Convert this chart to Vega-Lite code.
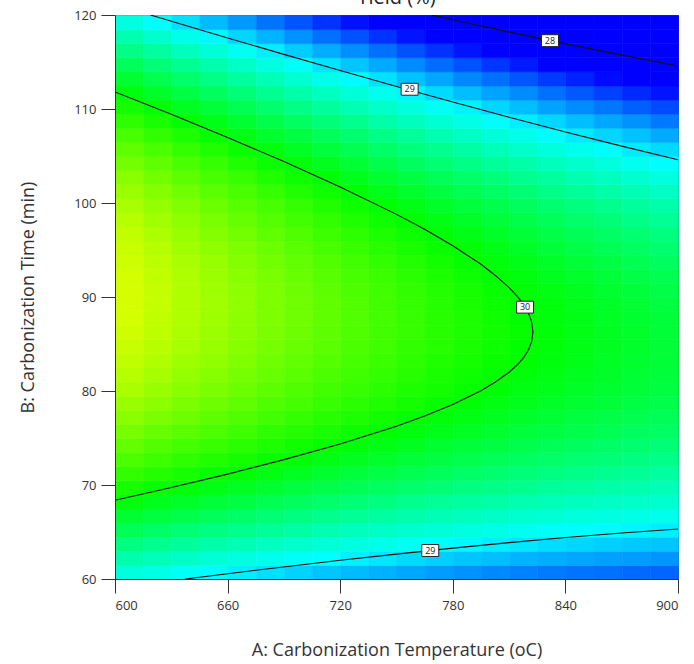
{
"$schema":"https://vega.github.io/schema/vega-lite/v6.json",
"width":563,"height":564,
"autosize":"none",
"padding":{"left":115,"top":15,"right":16,"bottom":85},
"background":"white",
"title":{"text":"Yield (%)","fontSize":20,"fontWeight":"normal","font":"Open Sans","color":"#222","offset":1,"anchor":"middle"},
"config":{"view":{"stroke":"#555","strokeWidth":1},
"axis":{"labelFont":"Open Sans","titleFont":"Open Sans","labelFontSize":13,"titleFontSize":18,"titleFontWeight":"normal","labelColor":"#333","titleColor":"#333","tickColor":"#333","domainColor":"#333","tickSize":14,"grid":false,"labelPadding":5}},
"datasets":{
"grid":[
{"A":600,"B":60,"Y":29.18},{"A":600,"B":61.5,"Y":29.36},{"A":600,"B":63,"Y":29.52},{"A":600,"B":64.5,"Y":29.68},{"A":600,"B":66,"Y":29.82},{"A":600,"B":67.5,"Y":29.96},{"A":600,"B":69,"Y":30.09},{"A":600,"B":70.5,"Y":30.21},{"A":600,"B":72,"Y":30.32},{"A":600,"B":73.5,"Y":30.42},{"A":600,"B":75,"Y":30.51},{"A":600,"B":76.5,"Y":30.59},{"A":600,"B":78,"Y":30.66},{"A":600,"B":79.5,"Y":30.73},{"A":600,"B":81,"Y":30.78},{"A":600,"B":82.5,"Y":30.83},{"A":600,"B":84,"Y":30.86},{"A":600,"B":85.5,"Y":30.89},{"A":600,"B":87,"Y":30.91},{"A":600,"B":88.5,"Y":30.92},{"A":600,"B":90,"Y":30.92},{"A":600,"B":91.5,"Y":30.91},{"A":600,"B":93,"Y":30.89},{"A":600,"B":94.5,"Y":30.86},{"A":600,"B":96,"Y":30.83},{"A":600,"B":97.5,"Y":30.78},{"A":600,"B":99,"Y":30.72},{"A":600,"B":100.5,"Y":30.66},{"A":600,"B":102,"Y":30.59},{"A":600,"B":103.5,"Y":30.5},{"A":600,"B":105,"Y":30.41},{"A":600,"B":106.5,"Y":30.31},{"A":600,"B":108,"Y":30.2},{"A":600,"B":109.5,"Y":30.08},{"A":600,"B":111,"Y":29.95},{"A":600,"B":112.5,"Y":29.82},{"A":600,"B":114,"Y":29.67},{"A":600,"B":115.5,"Y":29.51},{"A":600,"B":117,"Y":29.35},{"A":600,"B":118.5,"Y":29.17},
{"A":615,"B":60,"Y":29.14},{"A":615,"B":61.5,"Y":29.31},{"A":615,"B":63,"Y":29.47},{"A":615,"B":64.5,"Y":29.62},{"A":615,"B":66,"Y":29.77},{"A":615,"B":67.5,"Y":29.9},{"A":615,"B":69,"Y":30.03},{"A":615,"B":70.5,"Y":30.15},{"A":615,"B":72,"Y":30.26},{"A":615,"B":73.5,"Y":30.35},{"A":615,"B":75,"Y":30.44},{"A":615,"B":76.5,"Y":30.52},{"A":615,"B":78,"Y":30.6},{"A":615,"B":79.5,"Y":30.66},{"A":615,"B":81,"Y":30.71},{"A":615,"B":82.5,"Y":30.76},{"A":615,"B":84,"Y":30.79},{"A":615,"B":85.5,"Y":30.82},{"A":615,"B":87,"Y":30.83},{"A":615,"B":88.5,"Y":30.84},{"A":615,"B":90,"Y":30.84},{"A":615,"B":91.5,"Y":30.83},{"A":615,"B":93,"Y":30.81},{"A":615,"B":94.5,"Y":30.78},{"A":615,"B":96,"Y":30.74},{"A":615,"B":97.5,"Y":30.69},{"A":615,"B":99,"Y":30.64},{"A":615,"B":100.5,"Y":30.57},{"A":615,"B":102,"Y":30.49},{"A":615,"B":103.5,"Y":30.41},{"A":615,"B":105,"Y":30.32},{"A":615,"B":106.5,"Y":30.21},{"A":615,"B":108,"Y":30.1},{"A":615,"B":109.5,"Y":29.98},{"A":615,"B":111,"Y":29.85},{"A":615,"B":112.5,"Y":29.71},{"A":615,"B":114,"Y":29.56},{"A":615,"B":115.5,"Y":29.41},{"A":615,"B":117,"Y":29.24},{"A":615,"B":118.5,"Y":29.07},
{"A":630,"B":60,"Y":29.09},{"A":630,"B":61.5,"Y":29.26},{"A":630,"B":63,"Y":29.42},{"A":630,"B":64.5,"Y":29.57},{"A":630,"B":66,"Y":29.72},{"A":630,"B":67.5,"Y":29.85},{"A":630,"B":69,"Y":29.97},{"A":630,"B":70.5,"Y":30.09},{"A":630,"B":72,"Y":30.2},{"A":630,"B":73.5,"Y":30.29},{"A":630,"B":75,"Y":30.38},{"A":630,"B":76.5,"Y":30.46},{"A":630,"B":78,"Y":30.53},{"A":630,"B":79.5,"Y":30.59},{"A":630,"B":81,"Y":30.64},{"A":630,"B":82.5,"Y":30.68},{"A":630,"B":84,"Y":30.72},{"A":630,"B":85.5,"Y":30.74},{"A":630,"B":87,"Y":30.76},{"A":630,"B":88.5,"Y":30.76},{"A":630,"B":90,"Y":30.76},{"A":630,"B":91.5,"Y":30.75},{"A":630,"B":93,"Y":30.73},{"A":630,"B":94.5,"Y":30.69},{"A":630,"B":96,"Y":30.65},{"A":630,"B":97.5,"Y":30.61},{"A":630,"B":99,"Y":30.55},{"A":630,"B":100.5,"Y":30.48},{"A":630,"B":102,"Y":30.4},{"A":630,"B":103.5,"Y":30.32},{"A":630,"B":105,"Y":30.22},{"A":630,"B":106.5,"Y":30.12},{"A":630,"B":108,"Y":30.01},{"A":630,"B":109.5,"Y":29.88},{"A":630,"B":111,"Y":29.75},{"A":630,"B":112.5,"Y":29.61},{"A":630,"B":114,"Y":29.46},{"A":630,"B":115.5,"Y":29.3},{"A":630,"B":117,"Y":29.13},{"A":630,"B":118.5,"Y":28.96},
{"A":645,"B":60,"Y":29.04},{"A":645,"B":61.5,"Y":29.21},{"A":645,"B":63,"Y":29.37},{"A":645,"B":64.5,"Y":29.52},{"A":645,"B":66,"Y":29.66},{"A":645,"B":67.5,"Y":29.8},{"A":645,"B":69,"Y":29.92},{"A":645,"B":70.5,"Y":30.03},{"A":645,"B":72,"Y":30.14},{"A":645,"B":73.5,"Y":30.23},{"A":645,"B":75,"Y":30.32},{"A":645,"B":76.5,"Y":30.4},{"A":645,"B":78,"Y":30.47},{"A":645,"B":79.5,"Y":30.53},{"A":645,"B":81,"Y":30.58},{"A":645,"B":82.5,"Y":30.62},{"A":645,"B":84,"Y":30.65},{"A":645,"B":85.5,"Y":30.67},{"A":645,"B":87,"Y":30.68},{"A":645,"B":88.5,"Y":30.69},{"A":645,"B":90,"Y":30.68},{"A":645,"B":91.5,"Y":30.67},{"A":645,"B":93,"Y":30.65},{"A":645,"B":94.5,"Y":30.61},{"A":645,"B":96,"Y":30.57},{"A":645,"B":97.5,"Y":30.52},{"A":645,"B":99,"Y":30.46},{"A":645,"B":100.5,"Y":30.39},{"A":645,"B":102,"Y":30.31},{"A":645,"B":103.5,"Y":30.23},{"A":645,"B":105,"Y":30.13},{"A":645,"B":106.5,"Y":30.03},{"A":645,"B":108,"Y":29.91},{"A":645,"B":109.5,"Y":29.79},{"A":645,"B":111,"Y":29.65},{"A":645,"B":112.5,"Y":29.51},{"A":645,"B":114,"Y":29.36},{"A":645,"B":115.5,"Y":29.2},{"A":645,"B":117,"Y":29.03},{"A":645,"B":118.5,"Y":28.85},
{"A":660,"B":60,"Y":29.0},{"A":660,"B":61.5,"Y":29.17},{"A":660,"B":63,"Y":29.33},{"A":660,"B":64.5,"Y":29.48},{"A":660,"B":66,"Y":29.62},{"A":660,"B":67.5,"Y":29.75},{"A":660,"B":69,"Y":29.87},{"A":660,"B":70.5,"Y":29.98},{"A":660,"B":72,"Y":30.08},{"A":660,"B":73.5,"Y":30.18},{"A":660,"B":75,"Y":30.26},{"A":660,"B":76.5,"Y":30.34},{"A":660,"B":78,"Y":30.41},{"A":660,"B":79.5,"Y":30.46},{"A":660,"B":81,"Y":30.51},{"A":660,"B":82.5,"Y":30.55},{"A":660,"B":84,"Y":30.58},{"A":660,"B":85.5,"Y":30.6},{"A":660,"B":87,"Y":30.61},{"A":660,"B":88.5,"Y":30.62},{"A":660,"B":90,"Y":30.61},{"A":660,"B":91.5,"Y":30.59},{"A":660,"B":93,"Y":30.57},{"A":660,"B":94.5,"Y":30.54},{"A":660,"B":96,"Y":30.49},{"A":660,"B":97.5,"Y":30.44},{"A":660,"B":99,"Y":30.38},{"A":660,"B":100.5,"Y":30.31},{"A":660,"B":102,"Y":30.23},{"A":660,"B":103.5,"Y":30.14},{"A":660,"B":105,"Y":30.04},{"A":660,"B":106.5,"Y":29.93},{"A":660,"B":108,"Y":29.82},{"A":660,"B":109.5,"Y":29.69},{"A":660,"B":111,"Y":29.56},{"A":660,"B":112.5,"Y":29.41},{"A":660,"B":114,"Y":29.26},{"A":660,"B":115.5,"Y":29.1},{"A":660,"B":117,"Y":28.93},{"A":660,"B":118.5,"Y":28.75},
{"A":675,"B":60,"Y":28.96},{"A":675,"B":61.5,"Y":29.12},{"A":675,"B":63,"Y":29.28},{"A":675,"B":64.5,"Y":29.43},{"A":675,"B":66,"Y":29.57},{"A":675,"B":67.5,"Y":29.7},{"A":675,"B":69,"Y":29.82},{"A":675,"B":70.5,"Y":29.93},{"A":675,"B":72,"Y":30.03},{"A":675,"B":73.5,"Y":30.12},{"A":675,"B":75,"Y":30.2},{"A":675,"B":76.5,"Y":30.28},{"A":675,"B":78,"Y":30.34},{"A":675,"B":79.5,"Y":30.4},{"A":675,"B":81,"Y":30.45},{"A":675,"B":82.5,"Y":30.48},{"A":675,"B":84,"Y":30.51},{"A":675,"B":85.5,"Y":30.53},{"A":675,"B":87,"Y":30.54},{"A":675,"B":88.5,"Y":30.54},{"A":675,"B":90,"Y":30.54},{"A":675,"B":91.5,"Y":30.52},{"A":675,"B":93,"Y":30.49},{"A":675,"B":94.5,"Y":30.46},{"A":675,"B":96,"Y":30.41},{"A":675,"B":97.5,"Y":30.36},{"A":675,"B":99,"Y":30.3},{"A":675,"B":100.5,"Y":30.22},{"A":675,"B":102,"Y":30.14},{"A":675,"B":103.5,"Y":30.05},{"A":675,"B":105,"Y":29.95},{"A":675,"B":106.5,"Y":29.84},{"A":675,"B":108,"Y":29.73},{"A":675,"B":109.5,"Y":29.6},{"A":675,"B":111,"Y":29.46},{"A":675,"B":112.5,"Y":29.32},{"A":675,"B":114,"Y":29.16},{"A":675,"B":115.5,"Y":29.0},{"A":675,"B":117,"Y":28.83},{"A":675,"B":118.5,"Y":28.64},
{"A":690,"B":60,"Y":28.92},{"A":690,"B":61.5,"Y":29.09},{"A":690,"B":63,"Y":29.24},{"A":690,"B":64.5,"Y":29.39},{"A":690,"B":66,"Y":29.52},{"A":690,"B":67.5,"Y":29.65},{"A":690,"B":69,"Y":29.77},{"A":690,"B":70.5,"Y":29.88},{"A":690,"B":72,"Y":29.98},{"A":690,"B":73.5,"Y":30.07},{"A":690,"B":75,"Y":30.15},{"A":690,"B":76.5,"Y":30.22},{"A":690,"B":78,"Y":30.29},{"A":690,"B":79.5,"Y":30.34},{"A":690,"B":81,"Y":30.39},{"A":690,"B":82.5,"Y":30.42},{"A":690,"B":84,"Y":30.45},{"A":690,"B":85.5,"Y":30.47},{"A":690,"B":87,"Y":30.48},{"A":690,"B":88.5,"Y":30.48},{"A":690,"B":90,"Y":30.47},{"A":690,"B":91.5,"Y":30.45},{"A":690,"B":93,"Y":30.42},{"A":690,"B":94.5,"Y":30.38},{"A":690,"B":96,"Y":30.34},{"A":690,"B":97.5,"Y":30.28},{"A":690,"B":99,"Y":30.22},{"A":690,"B":100.5,"Y":30.14},{"A":690,"B":102,"Y":30.06},{"A":690,"B":103.5,"Y":29.97},{"A":690,"B":105,"Y":29.87},{"A":690,"B":106.5,"Y":29.76},{"A":690,"B":108,"Y":29.64},{"A":690,"B":109.5,"Y":29.51},{"A":690,"B":111,"Y":29.37},{"A":690,"B":112.5,"Y":29.22},{"A":690,"B":114,"Y":29.07},{"A":690,"B":115.5,"Y":28.9},{"A":690,"B":117,"Y":28.73},{"A":690,"B":118.5,"Y":28.55},
{"A":705,"B":60,"Y":28.88},{"A":705,"B":61.5,"Y":29.05},{"A":705,"B":63,"Y":29.2},{"A":705,"B":64.5,"Y":29.34},{"A":705,"B":66,"Y":29.48},{"A":705,"B":67.5,"Y":29.61},{"A":705,"B":69,"Y":29.72},{"A":705,"B":70.5,"Y":29.83},{"A":705,"B":72,"Y":29.93},{"A":705,"B":73.5,"Y":30.02},{"A":705,"B":75,"Y":30.1},{"A":705,"B":76.5,"Y":30.17},{"A":705,"B":78,"Y":30.23},{"A":705,"B":79.5,"Y":30.28},{"A":705,"B":81,"Y":30.33},{"A":705,"B":82.5,"Y":30.36},{"A":705,"B":84,"Y":30.39},{"A":705,"B":85.5,"Y":30.4},{"A":705,"B":87,"Y":30.41},{"A":705,"B":88.5,"Y":30.41},{"A":705,"B":90,"Y":30.4},{"A":705,"B":91.5,"Y":30.38},{"A":705,"B":93,"Y":30.35},{"A":705,"B":94.5,"Y":30.31},{"A":705,"B":96,"Y":30.26},{"A":705,"B":97.5,"Y":30.21},{"A":705,"B":99,"Y":30.14},{"A":705,"B":100.5,"Y":30.06},{"A":705,"B":102,"Y":29.98},{"A":705,"B":103.5,"Y":29.89},{"A":705,"B":105,"Y":29.78},{"A":705,"B":106.5,"Y":29.67},{"A":705,"B":108,"Y":29.55},{"A":705,"B":109.5,"Y":29.42},{"A":705,"B":111,"Y":29.28},{"A":705,"B":112.5,"Y":29.13},{"A":705,"B":114,"Y":28.97},{"A":705,"B":115.5,"Y":28.81},{"A":705,"B":117,"Y":28.63},{"A":705,"B":118.5,"Y":28.45},
{"A":720,"B":60,"Y":28.85},{"A":720,"B":61.5,"Y":29.01},{"A":720,"B":63,"Y":29.16},{"A":720,"B":64.5,"Y":29.3},{"A":720,"B":66,"Y":29.44},{"A":720,"B":67.5,"Y":29.56},{"A":720,"B":69,"Y":29.68},{"A":720,"B":70.5,"Y":29.78},{"A":720,"B":72,"Y":29.88},{"A":720,"B":73.5,"Y":29.97},{"A":720,"B":75,"Y":30.05},{"A":720,"B":76.5,"Y":30.12},{"A":720,"B":78,"Y":30.18},{"A":720,"B":79.5,"Y":30.23},{"A":720,"B":81,"Y":30.27},{"A":720,"B":82.5,"Y":30.3},{"A":720,"B":84,"Y":30.33},{"A":720,"B":85.5,"Y":30.34},{"A":720,"B":87,"Y":30.35},{"A":720,"B":88.5,"Y":30.35},{"A":720,"B":90,"Y":30.33},{"A":720,"B":91.5,"Y":30.31},{"A":720,"B":93,"Y":30.28},{"A":720,"B":94.5,"Y":30.24},{"A":720,"B":96,"Y":30.19},{"A":720,"B":97.5,"Y":30.13},{"A":720,"B":99,"Y":30.06},{"A":720,"B":100.5,"Y":29.99},{"A":720,"B":102,"Y":29.9},{"A":720,"B":103.5,"Y":29.81},{"A":720,"B":105,"Y":29.7},{"A":720,"B":106.5,"Y":29.59},{"A":720,"B":108,"Y":29.47},{"A":720,"B":109.5,"Y":29.33},{"A":720,"B":111,"Y":29.19},{"A":720,"B":112.5,"Y":29.04},{"A":720,"B":114,"Y":28.88},{"A":720,"B":115.5,"Y":28.72},{"A":720,"B":117,"Y":28.54},{"A":720,"B":118.5,"Y":28.35},
{"A":735,"B":60,"Y":28.82},{"A":735,"B":61.5,"Y":28.98},{"A":735,"B":63,"Y":29.13},{"A":735,"B":64.5,"Y":29.27},{"A":735,"B":66,"Y":29.4},{"A":735,"B":67.5,"Y":29.52},{"A":735,"B":69,"Y":29.64},{"A":735,"B":70.5,"Y":29.74},{"A":735,"B":72,"Y":29.84},{"A":735,"B":73.5,"Y":29.92},{"A":735,"B":75,"Y":30.0},{"A":735,"B":76.5,"Y":30.07},{"A":735,"B":78,"Y":30.13},{"A":735,"B":79.5,"Y":30.18},{"A":735,"B":81,"Y":30.22},{"A":735,"B":82.5,"Y":30.25},{"A":735,"B":84,"Y":30.27},{"A":735,"B":85.5,"Y":30.28},{"A":735,"B":87,"Y":30.29},{"A":735,"B":88.5,"Y":30.28},{"A":735,"B":90,"Y":30.27},{"A":735,"B":91.5,"Y":30.25},{"A":735,"B":93,"Y":30.21},{"A":735,"B":94.5,"Y":30.17},{"A":735,"B":96,"Y":30.12},{"A":735,"B":97.5,"Y":30.06},{"A":735,"B":99,"Y":29.99},{"A":735,"B":100.5,"Y":29.91},{"A":735,"B":102,"Y":29.82},{"A":735,"B":103.5,"Y":29.73},{"A":735,"B":105,"Y":29.62},{"A":735,"B":106.5,"Y":29.51},{"A":735,"B":108,"Y":29.38},{"A":735,"B":109.5,"Y":29.25},{"A":735,"B":111,"Y":29.11},{"A":735,"B":112.5,"Y":28.96},{"A":735,"B":114,"Y":28.8},{"A":735,"B":115.5,"Y":28.63},{"A":735,"B":117,"Y":28.45},{"A":735,"B":118.5,"Y":28.26},
{"A":750,"B":60,"Y":28.79},{"A":750,"B":61.5,"Y":28.94},{"A":750,"B":63,"Y":29.09},{"A":750,"B":64.5,"Y":29.23},{"A":750,"B":66,"Y":29.36},{"A":750,"B":67.5,"Y":29.48},{"A":750,"B":69,"Y":29.6},{"A":750,"B":70.5,"Y":29.7},{"A":750,"B":72,"Y":29.79},{"A":750,"B":73.5,"Y":29.88},{"A":750,"B":75,"Y":29.95},{"A":750,"B":76.5,"Y":30.02},{"A":750,"B":78,"Y":30.08},{"A":750,"B":79.5,"Y":30.12},{"A":750,"B":81,"Y":30.16},{"A":750,"B":82.5,"Y":30.19},{"A":750,"B":84,"Y":30.21},{"A":750,"B":85.5,"Y":30.23},{"A":750,"B":87,"Y":30.23},{"A":750,"B":88.5,"Y":30.22},{"A":750,"B":90,"Y":30.21},{"A":750,"B":91.5,"Y":30.18},{"A":750,"B":93,"Y":30.15},{"A":750,"B":94.5,"Y":30.1},{"A":750,"B":96,"Y":30.05},{"A":750,"B":97.5,"Y":29.99},{"A":750,"B":99,"Y":29.92},{"A":750,"B":100.5,"Y":29.84},{"A":750,"B":102,"Y":29.75},{"A":750,"B":103.5,"Y":29.65},{"A":750,"B":105,"Y":29.54},{"A":750,"B":106.5,"Y":29.43},{"A":750,"B":108,"Y":29.3},{"A":750,"B":109.5,"Y":29.17},{"A":750,"B":111,"Y":29.02},{"A":750,"B":112.5,"Y":28.87},{"A":750,"B":114,"Y":28.71},{"A":750,"B":115.5,"Y":28.54},{"A":750,"B":117,"Y":28.36},{"A":750,"B":118.5,"Y":28.17},
{"A":765,"B":60,"Y":28.76},{"A":765,"B":61.5,"Y":28.91},{"A":765,"B":63,"Y":29.06},{"A":765,"B":64.5,"Y":29.2},{"A":765,"B":66,"Y":29.33},{"A":765,"B":67.5,"Y":29.45},{"A":765,"B":69,"Y":29.56},{"A":765,"B":70.5,"Y":29.66},{"A":765,"B":72,"Y":29.75},{"A":765,"B":73.5,"Y":29.83},{"A":765,"B":75,"Y":29.91},{"A":765,"B":76.5,"Y":29.97},{"A":765,"B":78,"Y":30.03},{"A":765,"B":79.5,"Y":30.08},{"A":765,"B":81,"Y":30.11},{"A":765,"B":82.5,"Y":30.14},{"A":765,"B":84,"Y":30.16},{"A":765,"B":85.5,"Y":30.17},{"A":765,"B":87,"Y":30.17},{"A":765,"B":88.5,"Y":30.16},{"A":765,"B":90,"Y":30.15},{"A":765,"B":91.5,"Y":30.12},{"A":765,"B":93,"Y":30.08},{"A":765,"B":94.5,"Y":30.04},{"A":765,"B":96,"Y":29.98},{"A":765,"B":97.5,"Y":29.92},{"A":765,"B":99,"Y":29.85},{"A":765,"B":100.5,"Y":29.77},{"A":765,"B":102,"Y":29.68},{"A":765,"B":103.5,"Y":29.58},{"A":765,"B":105,"Y":29.47},{"A":765,"B":106.5,"Y":29.35},{"A":765,"B":108,"Y":29.22},{"A":765,"B":109.5,"Y":29.09},{"A":765,"B":111,"Y":28.94},{"A":765,"B":112.5,"Y":28.79},{"A":765,"B":114,"Y":28.62},{"A":765,"B":115.5,"Y":28.45},{"A":765,"B":117,"Y":28.27},{"A":765,"B":118.5,"Y":28.08},
{"A":780,"B":60,"Y":28.73},{"A":780,"B":61.5,"Y":28.88},{"A":780,"B":63,"Y":29.03},{"A":780,"B":64.5,"Y":29.17},{"A":780,"B":66,"Y":29.29},{"A":780,"B":67.5,"Y":29.41},{"A":780,"B":69,"Y":29.52},{"A":780,"B":70.5,"Y":29.62},{"A":780,"B":72,"Y":29.71},{"A":780,"B":73.5,"Y":29.79},{"A":780,"B":75,"Y":29.87},{"A":780,"B":76.5,"Y":29.93},{"A":780,"B":78,"Y":29.98},{"A":780,"B":79.5,"Y":30.03},{"A":780,"B":81,"Y":30.06},{"A":780,"B":82.5,"Y":30.09},{"A":780,"B":84,"Y":30.11},{"A":780,"B":85.5,"Y":30.12},{"A":780,"B":87,"Y":30.12},{"A":780,"B":88.5,"Y":30.11},{"A":780,"B":90,"Y":30.09},{"A":780,"B":91.5,"Y":30.06},{"A":780,"B":93,"Y":30.02},{"A":780,"B":94.5,"Y":29.98},{"A":780,"B":96,"Y":29.92},{"A":780,"B":97.5,"Y":29.86},{"A":780,"B":99,"Y":29.78},{"A":780,"B":100.5,"Y":29.7},{"A":780,"B":102,"Y":29.61},{"A":780,"B":103.5,"Y":29.5},{"A":780,"B":105,"Y":29.39},{"A":780,"B":106.5,"Y":29.27},{"A":780,"B":108,"Y":29.15},{"A":780,"B":109.5,"Y":29.01},{"A":780,"B":111,"Y":28.86},{"A":780,"B":112.5,"Y":28.7},{"A":780,"B":114,"Y":28.54},{"A":780,"B":115.5,"Y":28.36},{"A":780,"B":117,"Y":28.18},{"A":780,"B":118.5,"Y":27.99},
{"A":795,"B":60,"Y":28.7},{"A":795,"B":61.5,"Y":28.86},{"A":795,"B":63,"Y":29.0},{"A":795,"B":64.5,"Y":29.14},{"A":795,"B":66,"Y":29.26},{"A":795,"B":67.5,"Y":29.38},{"A":795,"B":69,"Y":29.49},{"A":795,"B":70.5,"Y":29.59},{"A":795,"B":72,"Y":29.67},{"A":795,"B":73.5,"Y":29.75},{"A":795,"B":75,"Y":29.83},{"A":795,"B":76.5,"Y":29.89},{"A":795,"B":78,"Y":29.94},{"A":795,"B":79.5,"Y":29.98},{"A":795,"B":81,"Y":30.02},{"A":795,"B":82.5,"Y":30.04},{"A":795,"B":84,"Y":30.06},{"A":795,"B":85.5,"Y":30.07},{"A":795,"B":87,"Y":30.06},{"A":795,"B":88.5,"Y":30.05},{"A":795,"B":90,"Y":30.03},{"A":795,"B":91.5,"Y":30.0},{"A":795,"B":93,"Y":29.96},{"A":795,"B":94.5,"Y":29.92},{"A":795,"B":96,"Y":29.86},{"A":795,"B":97.5,"Y":29.79},{"A":795,"B":99,"Y":29.72},{"A":795,"B":100.5,"Y":29.63},{"A":795,"B":102,"Y":29.54},{"A":795,"B":103.5,"Y":29.43},{"A":795,"B":105,"Y":29.32},{"A":795,"B":106.5,"Y":29.2},{"A":795,"B":108,"Y":29.07},{"A":795,"B":109.5,"Y":28.93},{"A":795,"B":111,"Y":28.78},{"A":795,"B":112.5,"Y":28.63},{"A":795,"B":114,"Y":28.46},{"A":795,"B":115.5,"Y":28.28},{"A":795,"B":117,"Y":28.1},{"A":795,"B":118.5,"Y":27.9},
{"A":810,"B":60,"Y":28.68},{"A":810,"B":61.5,"Y":28.83},{"A":810,"B":63,"Y":28.98},{"A":810,"B":64.5,"Y":29.11},{"A":810,"B":66,"Y":29.23},{"A":810,"B":67.5,"Y":29.35},{"A":810,"B":69,"Y":29.46},{"A":810,"B":70.5,"Y":29.55},{"A":810,"B":72,"Y":29.64},{"A":810,"B":73.5,"Y":29.72},{"A":810,"B":75,"Y":29.79},{"A":810,"B":76.5,"Y":29.85},{"A":810,"B":78,"Y":29.9},{"A":810,"B":79.5,"Y":29.94},{"A":810,"B":81,"Y":29.97},{"A":810,"B":82.5,"Y":30.0},{"A":810,"B":84,"Y":30.01},{"A":810,"B":85.5,"Y":30.02},{"A":810,"B":87,"Y":30.01},{"A":810,"B":88.5,"Y":30.0},{"A":810,"B":90,"Y":29.98},{"A":810,"B":91.5,"Y":29.95},{"A":810,"B":93,"Y":29.91},{"A":810,"B":94.5,"Y":29.86},{"A":810,"B":96,"Y":29.8},{"A":810,"B":97.5,"Y":29.73},{"A":810,"B":99,"Y":29.65},{"A":810,"B":100.5,"Y":29.57},{"A":810,"B":102,"Y":29.47},{"A":810,"B":103.5,"Y":29.37},{"A":810,"B":105,"Y":29.25},{"A":810,"B":106.5,"Y":29.13},{"A":810,"B":108,"Y":29.0},{"A":810,"B":109.5,"Y":28.86},{"A":810,"B":111,"Y":28.71},{"A":810,"B":112.5,"Y":28.55},{"A":810,"B":114,"Y":28.38},{"A":810,"B":115.5,"Y":28.2},{"A":810,"B":117,"Y":28.01},{"A":810,"B":118.5,"Y":27.82},
{"A":825,"B":60,"Y":28.66},{"A":825,"B":61.5,"Y":28.81},{"A":825,"B":63,"Y":28.95},{"A":825,"B":64.5,"Y":29.08},{"A":825,"B":66,"Y":29.21},{"A":825,"B":67.5,"Y":29.32},{"A":825,"B":69,"Y":29.42},{"A":825,"B":70.5,"Y":29.52},{"A":825,"B":72,"Y":29.61},{"A":825,"B":73.5,"Y":29.68},{"A":825,"B":75,"Y":29.75},{"A":825,"B":76.5,"Y":29.81},{"A":825,"B":78,"Y":29.86},{"A":825,"B":79.5,"Y":29.9},{"A":825,"B":81,"Y":29.93},{"A":825,"B":82.5,"Y":29.95},{"A":825,"B":84,"Y":29.97},{"A":825,"B":85.5,"Y":29.97},{"A":825,"B":87,"Y":29.96},{"A":825,"B":88.5,"Y":29.95},{"A":825,"B":90,"Y":29.93},{"A":825,"B":91.5,"Y":29.89},{"A":825,"B":93,"Y":29.85},{"A":825,"B":94.5,"Y":29.8},{"A":825,"B":96,"Y":29.74},{"A":825,"B":97.5,"Y":29.67},{"A":825,"B":99,"Y":29.59},{"A":825,"B":100.5,"Y":29.5},{"A":825,"B":102,"Y":29.41},{"A":825,"B":103.5,"Y":29.3},{"A":825,"B":105,"Y":29.18},{"A":825,"B":106.5,"Y":29.06},{"A":825,"B":108,"Y":28.93},{"A":825,"B":109.5,"Y":28.78},{"A":825,"B":111,"Y":28.63},{"A":825,"B":112.5,"Y":28.47},{"A":825,"B":114,"Y":28.3},{"A":825,"B":115.5,"Y":28.12},{"A":825,"B":117,"Y":27.93},{"A":825,"B":118.5,"Y":27.74},
{"A":840,"B":60,"Y":28.64},{"A":840,"B":61.5,"Y":28.79},{"A":840,"B":63,"Y":28.93},{"A":840,"B":64.5,"Y":29.06},{"A":840,"B":66,"Y":29.18},{"A":840,"B":67.5,"Y":29.29},{"A":840,"B":69,"Y":29.4},{"A":840,"B":70.5,"Y":29.49},{"A":840,"B":72,"Y":29.57},{"A":840,"B":73.5,"Y":29.65},{"A":840,"B":75,"Y":29.72},{"A":840,"B":76.5,"Y":29.77},{"A":840,"B":78,"Y":29.82},{"A":840,"B":79.5,"Y":29.86},{"A":840,"B":81,"Y":29.89},{"A":840,"B":82.5,"Y":29.91},{"A":840,"B":84,"Y":29.92},{"A":840,"B":85.5,"Y":29.92},{"A":840,"B":87,"Y":29.92},{"A":840,"B":88.5,"Y":29.9},{"A":840,"B":90,"Y":29.88},{"A":840,"B":91.5,"Y":29.84},{"A":840,"B":93,"Y":29.8},{"A":840,"B":94.5,"Y":29.74},{"A":840,"B":96,"Y":29.68},{"A":840,"B":97.5,"Y":29.61},{"A":840,"B":99,"Y":29.53},{"A":840,"B":100.5,"Y":29.44},{"A":840,"B":102,"Y":29.34},{"A":840,"B":103.5,"Y":29.24},{"A":840,"B":105,"Y":29.12},{"A":840,"B":106.5,"Y":28.99},{"A":840,"B":108,"Y":28.86},{"A":840,"B":109.5,"Y":28.71},{"A":840,"B":111,"Y":28.56},{"A":840,"B":112.5,"Y":28.4},{"A":840,"B":114,"Y":28.23},{"A":840,"B":115.5,"Y":28.05},{"A":840,"B":117,"Y":27.86},{"A":840,"B":118.5,"Y":27.66},
{"A":855,"B":60,"Y":28.63},{"A":855,"B":61.5,"Y":28.77},{"A":855,"B":63,"Y":28.91},{"A":855,"B":64.5,"Y":29.04},{"A":855,"B":66,"Y":29.16},{"A":855,"B":67.5,"Y":29.27},{"A":855,"B":69,"Y":29.37},{"A":855,"B":70.5,"Y":29.46},{"A":855,"B":72,"Y":29.55},{"A":855,"B":73.5,"Y":29.62},{"A":855,"B":75,"Y":29.69},{"A":855,"B":76.5,"Y":29.74},{"A":855,"B":78,"Y":29.79},{"A":855,"B":79.5,"Y":29.82},{"A":855,"B":81,"Y":29.85},{"A":855,"B":82.5,"Y":29.87},{"A":855,"B":84,"Y":29.88},{"A":855,"B":85.5,"Y":29.88},{"A":855,"B":87,"Y":29.87},{"A":855,"B":88.5,"Y":29.86},{"A":855,"B":90,"Y":29.83},{"A":855,"B":91.5,"Y":29.79},{"A":855,"B":93,"Y":29.75},{"A":855,"B":94.5,"Y":29.69},{"A":855,"B":96,"Y":29.63},{"A":855,"B":97.5,"Y":29.56},{"A":855,"B":99,"Y":29.48},{"A":855,"B":100.5,"Y":29.38},{"A":855,"B":102,"Y":29.28},{"A":855,"B":103.5,"Y":29.18},{"A":855,"B":105,"Y":29.06},{"A":855,"B":106.5,"Y":28.93},{"A":855,"B":108,"Y":28.79},{"A":855,"B":109.5,"Y":28.65},{"A":855,"B":111,"Y":28.49},{"A":855,"B":112.5,"Y":28.33},{"A":855,"B":114,"Y":28.15},{"A":855,"B":115.5,"Y":27.97},{"A":855,"B":117,"Y":27.78},{"A":855,"B":118.5,"Y":27.58},
{"A":870,"B":60,"Y":28.61},{"A":870,"B":61.5,"Y":28.76},{"A":870,"B":63,"Y":28.89},{"A":870,"B":64.5,"Y":29.02},{"A":870,"B":66,"Y":29.14},{"A":870,"B":67.5,"Y":29.25},{"A":870,"B":69,"Y":29.35},{"A":870,"B":70.5,"Y":29.44},{"A":870,"B":72,"Y":29.52},{"A":870,"B":73.5,"Y":29.59},{"A":870,"B":75,"Y":29.65},{"A":870,"B":76.5,"Y":29.71},{"A":870,"B":78,"Y":29.75},{"A":870,"B":79.5,"Y":29.79},{"A":870,"B":81,"Y":29.81},{"A":870,"B":82.5,"Y":29.83},{"A":870,"B":84,"Y":29.84},{"A":870,"B":85.5,"Y":29.84},{"A":870,"B":87,"Y":29.83},{"A":870,"B":88.5,"Y":29.81},{"A":870,"B":90,"Y":29.78},{"A":870,"B":91.5,"Y":29.74},{"A":870,"B":93,"Y":29.7},{"A":870,"B":94.5,"Y":29.64},{"A":870,"B":96,"Y":29.58},{"A":870,"B":97.5,"Y":29.5},{"A":870,"B":99,"Y":29.42},{"A":870,"B":100.5,"Y":29.33},{"A":870,"B":102,"Y":29.23},{"A":870,"B":103.5,"Y":29.11},{"A":870,"B":105,"Y":28.99},{"A":870,"B":106.5,"Y":28.87},{"A":870,"B":108,"Y":28.73},{"A":870,"B":109.5,"Y":28.58},{"A":870,"B":111,"Y":28.42},{"A":870,"B":112.5,"Y":28.26},{"A":870,"B":114,"Y":28.08},{"A":870,"B":115.5,"Y":27.9},{"A":870,"B":117,"Y":27.71},{"A":870,"B":118.5,"Y":27.5},
{"A":885,"B":60,"Y":28.6},{"A":885,"B":61.5,"Y":28.74},{"A":885,"B":63,"Y":28.88},{"A":885,"B":64.5,"Y":29.0},{"A":885,"B":66,"Y":29.12},{"A":885,"B":67.5,"Y":29.23},{"A":885,"B":69,"Y":29.32},{"A":885,"B":70.5,"Y":29.41},{"A":885,"B":72,"Y":29.49},{"A":885,"B":73.5,"Y":29.56},{"A":885,"B":75,"Y":29.63},{"A":885,"B":76.5,"Y":29.68},{"A":885,"B":78,"Y":29.72},{"A":885,"B":79.5,"Y":29.76},{"A":885,"B":81,"Y":29.78},{"A":885,"B":82.5,"Y":29.8},{"A":885,"B":84,"Y":29.8},{"A":885,"B":85.5,"Y":29.8},{"A":885,"B":87,"Y":29.79},{"A":885,"B":88.5,"Y":29.77},{"A":885,"B":90,"Y":29.74},{"A":885,"B":91.5,"Y":29.7},{"A":885,"B":93,"Y":29.65},{"A":885,"B":94.5,"Y":29.59},{"A":885,"B":96,"Y":29.53},{"A":885,"B":97.5,"Y":29.45},{"A":885,"B":99,"Y":29.37},{"A":885,"B":100.5,"Y":29.27},{"A":885,"B":102,"Y":29.17},{"A":885,"B":103.5,"Y":29.06},{"A":885,"B":105,"Y":28.94},{"A":885,"B":106.5,"Y":28.8},{"A":885,"B":108,"Y":28.66},{"A":885,"B":109.5,"Y":28.52},{"A":885,"B":111,"Y":28.36},{"A":885,"B":112.5,"Y":28.19},{"A":885,"B":114,"Y":28.01},{"A":885,"B":115.5,"Y":27.83},{"A":885,"B":117,"Y":27.63},{"A":885,"B":118.5,"Y":27.43}
],
"contours":[
{"id":"c30","o":1,"A":600,"B":111.81},{"id":"c30","o":2,"A":630,"B":109.43},{"id":"c30","o":3,"A":660,"B":106.97},{"id":"c30","o":4,"A":690,"B":104.41},{"id":"c30","o":5,"A":720,"B":101.71},{"id":"c30","o":6,"A":750,"B":98.79},{"id":"c30","o":7,"A":765,"B":97.2},{"id":"c30","o":8,"A":780,"B":95.46},{"id":"c30","o":9,"A":795,"B":93.48},{"id":"c30","o":10,"A":802.5,"B":92.32},{"id":"c30","o":11,"A":810,"B":91.0},{"id":"c30","o":12,"A":814.5,"B":90.03},{"id":"c30","o":13,"A":817.5,"B":89.24},{"id":"c30","o":14,"A":819,"B":88.76},{"id":"c30","o":15,"A":820.5,"B":88.18},{"id":"c30","o":16,"A":822,"B":87.36},{"id":"c30","o":17,"A":822.7,"B":86.28},{"id":"c30","o":18,"A":822,"B":85.23},{"id":"c30","o":19,"A":820.5,"B":84.46},{"id":"c30","o":20,"A":819,"B":83.93},{"id":"c30","o":21,"A":817.5,"B":83.5},{"id":"c30","o":22,"A":814.5,"B":82.82},{"id":"c30","o":23,"A":810,"B":82.0},{"id":"c30","o":24,"A":802.5,"B":80.93},{"id":"c30","o":25,"A":795,"B":80.03},{"id":"c30","o":26,"A":780,"B":78.56},{"id":"c30","o":27,"A":765,"B":77.34},{"id":"c30","o":28,"A":750,"B":76.26},{"id":"c30","o":29,"A":720,"B":74.37},{"id":"c30","o":30,"A":690,"B":72.7},{"id":"c30","o":31,"A":660,"B":71.16},{"id":"c30","o":32,"A":630,"B":69.73},{"id":"c30","o":33,"A":600,"B":68.37},
{"id":"c29u","o":1,"A":618.9,"B":120},{"id":"c29u","o":2,"A":622.5,"B":119.79},{"id":"c29u","o":3,"A":660,"B":117.56},{"id":"c29u","o":4,"A":690,"B":115.81},{"id":"c29u","o":5,"A":720,"B":114.09},{"id":"c29u","o":6,"A":750,"B":112.4},{"id":"c29u","o":7,"A":780,"B":110.74},{"id":"c29u","o":8,"A":810,"B":109.13},{"id":"c29u","o":9,"A":840,"B":107.56},{"id":"c29u","o":10,"A":870,"B":106.05},{"id":"c29u","o":11,"A":900,"B":104.6},
{"id":"c29l","o":1,"A":637.3,"B":60},{"id":"c29l","o":2,"A":645,"B":60.19},{"id":"c29l","o":3,"A":675,"B":60.93},{"id":"c29l","o":4,"A":720,"B":61.99},{"id":"c29l","o":5,"A":750,"B":62.65},{"id":"c29l","o":6,"A":780,"B":63.28},{"id":"c29l","o":7,"A":810,"B":63.87},{"id":"c29l","o":8,"A":840,"B":64.41},{"id":"c29l","o":9,"A":870,"B":64.9},{"id":"c29l","o":10,"A":900,"B":65.32},
{"id":"c28","o":1,"A":768.7,"B":120},{"id":"c28","o":2,"A":780,"B":119.49},{"id":"c28","o":3,"A":795,"B":118.83},{"id":"c28","o":4,"A":810,"B":118.18},{"id":"c28","o":5,"A":840,"B":116.93},{"id":"c28","o":6,"A":870,"B":115.73},{"id":"c28","o":7,"A":900,"B":114.58}
],
"labels":[
{"A":831.8,"B":117.27,"t":"28"},{"A":757,"B":112.1,"t":"29"},{"A":818.5,"B":88.92,"t":"30"},{"A":768,"B":63.03,"t":"29"}
]
},
"layer":[
{"data":{"name":"grid"},"mark":{"type":"rect","strokeWidth":0.6},
"encoding":{
"x":{"field":"A","type":"quantitative","bin":{"binned":true,"step":15},"scale":{"domain":[600,900],"nice":false,"zero":false},"axis":{"title":"A: Carbonization Temperature (oC)","values":[600,660,720,780,840,900],"titlePadding":29,"labelPadding":6}},
"y":{"field":"B","type":"quantitative","bin":{"binned":true,"step":1.5},"scale":{"domain":[60,120],"nice":false,"zero":false},"axis":{"title":"B: Carbonization Time (min)","values":[60,70,80,90,100,110,120],"titlePadding":36}},
"color":{"field":"Y","type":"quantitative","scale":{"domain":[28.3,29.05,30,31.1],"range":["#0000ff","#00ffff","#00ff00","#ffff00"],"interpolate":"rgb","clamp":true},"legend":null},
"stroke":{"field":"Y","type":"quantitative","scale":{"domain":[28.3,29.05,30,31.1],"range":["#0000ff","#00ffff","#00ff00","#ffff00"],"interpolate":"rgb","clamp":true},"legend":null}
}},
{"data":{"name":"contours"},"mark":{"type":"line","color":"#111","strokeWidth":1.1,"clip":true},
"encoding":{
"x":{"field":"A","type":"quantitative","scale":{"domain":[600,900],"nice":false,"zero":false}},
"y":{"field":"B","type":"quantitative","scale":{"domain":[60,120],"nice":false,"zero":false}},
"detail":{"field":"id"},
"order":{"field":"o","type":"quantitative"}
}},
{"data":{"name":"labels"},"mark":{"type":"point","shape":"M-1,-0.7L1,-0.7L1,0.7L-1,0.7Z","size":289,"filled":true,"fill":"white","stroke":"#222","strokeWidth":1,"opacity":1},
"encoding":{
"x":{"field":"A","type":"quantitative"},
"y":{"field":"B","type":"quantitative"}
}},
{"data":{"name":"labels"},"mark":{"type":"text","font":"Open Sans","fontSize":9,"color":"#222","align":"center","baseline":"middle"},
"encoding":{
"x":{"field":"A","type":"quantitative"},
"y":{"field":"B","type":"quantitative"},
"text":{"field":"t"}
}}
]
}
